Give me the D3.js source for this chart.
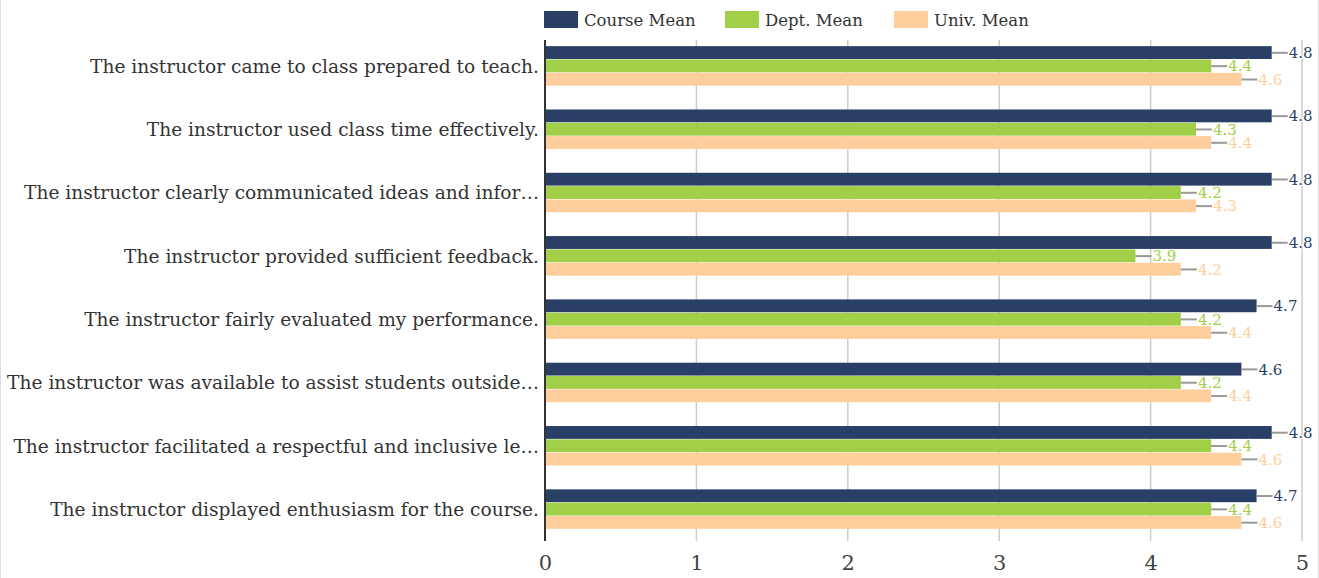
<!DOCTYPE html>
<html>
<head>
<meta charset="utf-8">
<script src="https://cdn.jsdelivr.net/npm/d3@7"></script>
<style>
  body { margin: 0; background: #fff; }
  svg { display: block; font-family: "DejaVu Serif", serif; }
</style>
</head>
<body>
<script>
// questions as shown (long ones are cut with an ellipsis)
var questions = [
  "The instructor came to class prepared to teach.",
  "The instructor used class time effectively.",
  "The instructor clearly communicated ideas and infor\u2026",
  "The instructor provided sufficient feedback.",
  "The instructor fairly evaluated my performance.",
  "The instructor was available to assist students outside\u2026",
  "The instructor facilitated a respectful and inclusive le\u2026",
  "The instructor displayed enthusiasm for the course."
];
var seriesNames = ["Course Mean", "Dept. Mean", "Univ. Mean"];
var courseMean = [4.8, 4.8, 4.8, 4.8, 4.7, 4.6, 4.8, 4.7];
var deptMean   = [4.4, 4.3, 4.2, 3.9, 4.2, 4.2, 4.4, 4.4];
var univMean   = [4.6, 4.4, 4.3, 4.2, 4.4, 4.4, 4.6, 4.6];
var xTicks = [0, 1, 2, 3, 4, 5];

var colors = ["#2a3f66", "#a2cf48", "#fecf9c"];
var seriesVals = [courseMean, deptMean, univMean];

var W = 1319, H = 578;
var svg = d3.select("body").append("svg").attr("width", W).attr("height", H);

// frame edges
svg.append("line").attr("x1", 0.5).attr("x2", 0.5).attr("y1", 0).attr("y2", H).attr("stroke", "#ddd");
svg.append("line").attr("x1", W - 0.5).attr("x2", W - 0.5).attr("y1", 0).attr("y2", H).attr("stroke", "#ddd");

var xScale = d3.scaleLinear().domain([0, 5]).range([545, 1302]);
var yScale = d3.scaleBand().domain(questions).range([34.5, 541]);
var inner = d3.scaleBand().domain(seriesNames).range([0, 40]);

// grid
svg.selectAll(".grid").data(xTicks.slice(1)).enter().append("line")
  .attr("class", "grid")
  .attr("x1", function (d) { return xScale(d); })
  .attr("x2", function (d) { return xScale(d); })
  .attr("y1", 40).attr("y2", 541)
  .attr("stroke", "#cccccc").attr("stroke-width", 1.5);

// bottom axis labels
var xAxis = d3.axisBottom(xScale).tickValues(xTicks).tickFormat(d3.format("d")).tickSize(0).tickPadding(0);
var ax = svg.append("g").attr("transform", "translate(0,555)").call(xAxis);
ax.select(".domain").remove();
ax.selectAll("text").attr("font-size", 21).attr("fill", "#444")
  .attr("font-family", "DejaVu Serif, serif").attr("dy", "0.71em");

// bars
var groups = svg.selectAll(".grp").data(questions).enter().append("g")
  .attr("class", "grp")
  .attr("transform", function (d) { return "translate(0," + (yScale(d) + (yScale.bandwidth() - 40) / 2) + ")"; });

groups.each(function (q, qi) {
  var g = d3.select(this);
  seriesNames.forEach(function (s, si) {
    var v = seriesVals[si][qi];
    var y0 = inner(s);
    g.append("rect")
      .attr("x", xScale(0)).attr("y", y0)
      .attr("width", xScale(v) - xScale(0)).attr("height", inner.bandwidth() - 0.5)
      .attr("fill", colors[si]);
    var cy = y0 + inner.bandwidth() / 2;
    g.append("line")
      .attr("x1", xScale(v)).attr("x2", xScale(v) + 16)
      .attr("y1", cy).attr("y2", cy)
      .attr("stroke", "#999").attr("stroke-width", 2);
    g.append("text")
      .attr("x", xScale(v) + 17).attr("y", cy)
      .attr("dy", "0.35em")
      .attr("font-size", 15)
      .attr("fill", colors[si])
      .attr("stroke", "#fff").attr("stroke-width", 2).attr("paint-order", "stroke")
      .text(v.toFixed(1));
  });
  g.append("text")
    .attr("x", 539).attr("y", 20).attr("dy", "0.35em")
    .attr("text-anchor", "end").attr("font-size", 18.6).attr("fill", "#333")
    .text(q);
});

// y axis line
svg.append("line").attr("x1", 545).attr("x2", 545).attr("y1", 40).attr("y2", 541)
  .attr("stroke", "#333").attr("stroke-width", 2);

// legend
var legX = [544, 725, 894];
var leg = svg.selectAll(".leg").data(seriesNames).enter().append("g")
  .attr("class", "leg")
  .attr("transform", function (d, i) { return "translate(" + legX[i] + ",11)"; });
leg.append("rect").attr("width", 34).attr("height", 17).attr("fill", function (d, i) { return colors[i]; });
leg.append("text").attr("x", 40).attr("y", 9).attr("dy", "0.35em")
  .attr("font-size", 16.5).attr("fill", "#333").text(function (d) { return d; });
</script>
</body>
</html>
